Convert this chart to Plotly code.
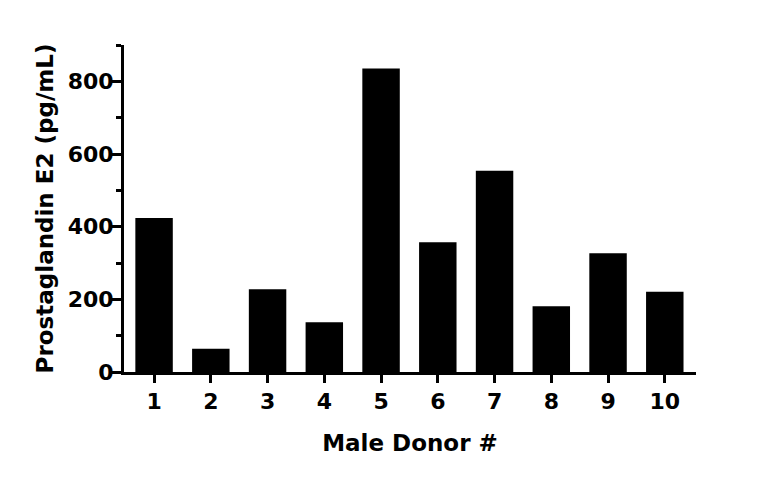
import plotly.graph_objects as go

donors = ["1", "2", "3", "4", "5", "6", "7", "8", "9", "10"]
pge2 = [424, 64, 228, 137, 835, 357, 554, 181, 327, 221]

y_ticks = [0, 200, 400, 600, 800]
y_minor = [100, 300, 500, 700, 900]

FONT = "DejaVu Sans"

fig = go.Figure(
    go.Bar(
        x=list(range(1, len(donors) + 1)),
        y=pge2,
        marker=dict(color="black", line=dict(width=0)),
        width=0.66,
    )
)

# page body has an 8px margin, so the plot area is offset to compensate
fig.update_layout(
    width=768,
    height=478,
    margin=dict(l=116, r=80, t=37, b=114),
    paper_bgcolor="white",
    plot_bgcolor="white",
    showlegend=False,
    font=dict(family=FONT, color="black", size=22),
)

fig.update_xaxes(
    range=[0.47, 10.55],
    tickmode="array",
    tickvals=list(range(1, len(donors) + 1)),
    ticktext=donors,
    showline=True,
    linecolor="black",
    linewidth=3,
    ticks="outside",
    ticklen=8,
    tickwidth=3,
    tickcolor="black",
    showgrid=False,
    zeroline=False,
    automargin=False,
    tickfont=dict(family=FONT, size=22, weight="bold"),
    title=dict(text="Male Donor #", font=dict(family=FONT, size=23, weight="bold"), standoff=22),
)

fig.update_yaxes(
    range=[0, 900],
    tickmode="array",
    tickvals=y_ticks,
    ticktext=[str(v) for v in y_ticks],
    showline=True,
    linecolor="black",
    linewidth=3,
    ticks="outside",
    ticklen=9,
    tickwidth=3,
    tickcolor="black",
    ticklabelstandoff=-6,
    minor=dict(tickvals=y_minor, ticks="outside", ticklen=5, tickwidth=3, tickcolor="black"),
    showgrid=False,
    zeroline=False,
    automargin=False,
    tickfont=dict(family=FONT, size=22, weight="bold"),
    title=dict(text="Prostaglandin E2 (pg/mL)", font=dict(family=FONT, size=23, weight="bold"), standoff=8),
)

fig.write_html("out.html")
